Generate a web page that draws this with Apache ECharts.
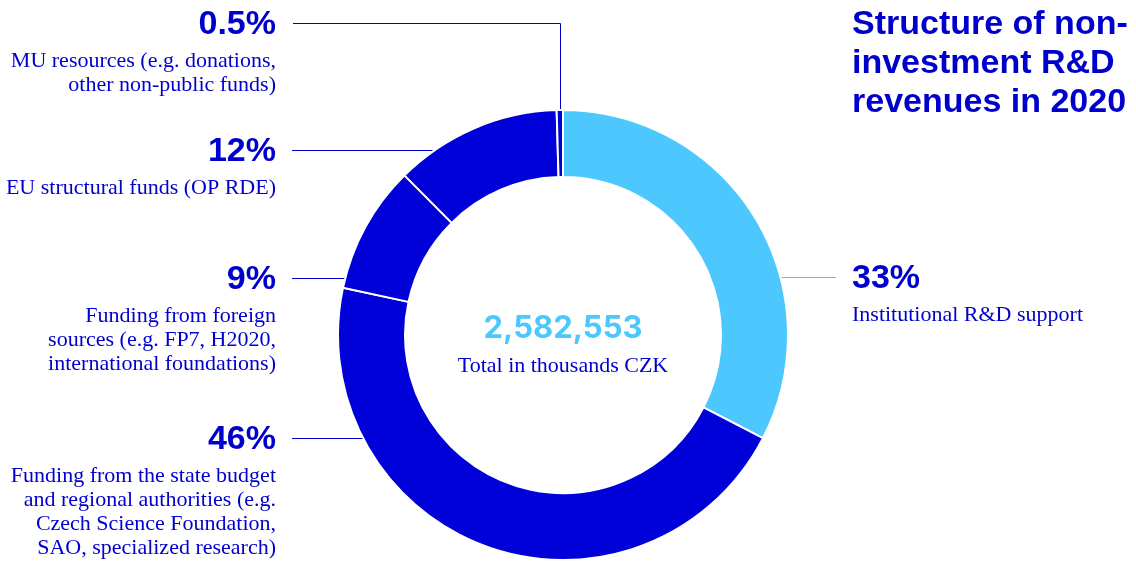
<!DOCTYPE html>
<html>
<head>
<meta charset="utf-8">
<script src="https://cdn.jsdelivr.net/npm/echarts@6/dist/echarts.min.js"></script>
<style>
  html, body { margin: 0; padding: 0; background: #fff; }
  #chart { width: 1136px; height: 562px; }
</style>
</head>
<body>
<div id="chart"></div>
<script>
// slices clockwise from 12 o'clock
const categories = [
  'Institutional R&D support',
  'Funding from the state budget and regional authorities',
  'Funding from foreign sources',
  'EU structural funds (OP RDE)',
  'MU resources'
];
const shares = [32.6, 45.8, 9.2, 12.0, 0.45];
const shareLabels = ['33%', '46%', '9%', '12%', '0.5%'];
const descLines = [
  ['Institutional R&D support'],
  ['Funding from the state budget', 'and regional authorities (e.g.', 'Czech Science Foundation,', 'SAO, specialized research)'],
  ['Funding from foreign', 'sources (e.g. FP7, H2020,', 'international foundations)'],
  ['EU structural funds (OP RDE)'],
  ['MU resources (e.g. donations,', 'other non-public funds)']
];
const totalText = '2,582,553';
const totalCaption = 'Total in thousands CZK';
const titleLines = ['Structure of non-', 'investment R&D', 'revenues in 2020'];

const DARK = '#0000d8';
const LIGHT = '#4dc8ff';
const TXT = '#0000cc';
const sliceColors = [LIGHT, DARK, DARK, DARK, DARK];

const cx = 563, cy = 335, rIn = 158, rOut = 225;
const sans = '"Liberation Sans", Arial, sans-serif';
const serif = '"Liberation Serif", serif';

// label blocks: slice index, side, anchor x, y of percent
const blocks = [
  { i: 4, side: 'left', x: 276, y: 23 },
  { i: 3, side: 'left', x: 276, y: 150 },
  { i: 2, side: 'left', x: 276, y: 278 },
  { i: 1, side: 'left', x: 276, y: 438 },
  { i: 0, side: 'right', x: 852, y: 277 }
];

const chart = echarts.init(document.getElementById('chart'));
const graphics = [];

function edgeX(y, side) {
  const d = Math.sqrt(rOut * rOut - (y - cy) * (y - cy));
  return side === 'left' ? cx - d : cx + d;
}

blocks.forEach(b => {
  const ly = Math.round(b.y) + 0.5;
  graphics.push({
    type: 'text',
    style: {
      text: shareLabels[b.i], x: b.x, y: b.y + 2,
      align: b.side === 'left' ? 'right' : 'left', verticalAlign: 'middle',
      font: 'bold 34px ' + sans, fill: TXT
    }
  });
  graphics.push({
    type: 'text',
    style: {
      text: descLines[b.i].join('\n'), x: b.x, y: b.y + 38 - 12,
      align: b.side === 'left' ? 'right' : 'left', verticalAlign: 'top',
      font: '22px ' + serif, lineHeight: 24, fill: TXT
    }
  });
  if (b.i === 4) {
    // tiny slice: elbow line down to the ring top
    let start = 90;
    shares.slice(0, 4).forEach(v => { start -= v / 100 * 360; });
    const mid = (start - shares[4] / 200 * 360) * Math.PI / 180;
    const vx = Math.round(cx + rOut * Math.cos(mid)) - 0.5;
    const vy = cy - rOut * Math.sin(mid);
    graphics.push({
      type: 'polyline',
      shape: { points: [[293, ly], [vx, ly], [vx, vy]] },
      style: { stroke: TXT, lineWidth: 1, fill: null }
    });
  } else if (b.side === 'left') {
    graphics.push({
      type: 'line',
      shape: { x1: 292, y1: ly, x2: edgeX(ly, 'left') + 2, y2: ly },
      style: { stroke: TXT, lineWidth: 1 }
    });
  } else {
    graphics.push({
      type: 'line',
      shape: { x1: edgeX(ly, 'right') - 2, y1: ly, x2: 836, y2: ly },
      style: { stroke: LIGHT, lineWidth: 1 }
    });
  }
});

graphics.push({
  type: 'text',
  style: {
    text: titleLines.join('\n'), x: 852, y: 24 - 19,
    align: 'left', verticalAlign: 'top',
    font: 'bold 34px ' + sans, lineHeight: 39, fill: TXT
  }
});
graphics.push({
  type: 'text',
  style: {
    text: totalText, x: cx, y: 329,
    align: 'center', verticalAlign: 'middle',
    font: 'bold 31px Inter, ' + sans, fill: LIGHT
  }
});
graphics.push({
  type: 'text',
  style: {
    text: totalCaption, x: cx, y: 366,
    align: 'center', verticalAlign: 'middle',
    font: '22px ' + serif, fill: TXT
  }
});

chart.setOption({
  animation: false,
  backgroundColor: '#fff',
  graphic: graphics,
  series: [{
    type: 'pie',
    center: [cx, cy],
    radius: [rIn, rOut],
    startAngle: 90,
    clockwise: true,
    silent: true,
    label: { show: false },
    labelLine: { show: false },
    itemStyle: { borderColor: '#fff', borderWidth: 2 },
    data: categories.map((name, i) => ({
      name: name,
      value: shares[i],
      itemStyle: { color: sliceColors[i] }
    }))
  }]
});
</script>
</body>
</html>
